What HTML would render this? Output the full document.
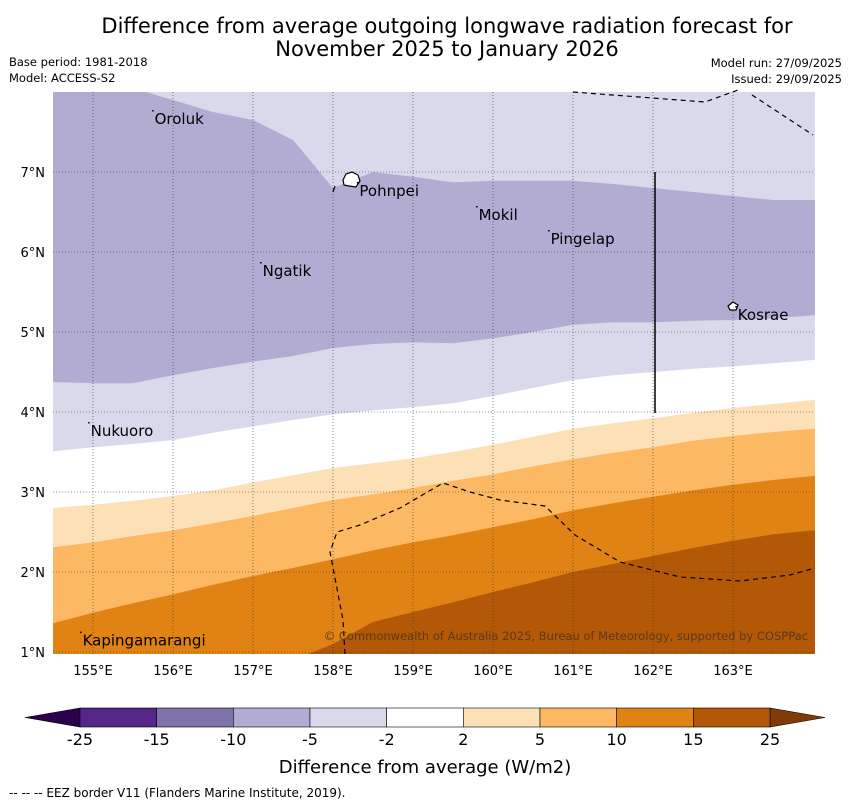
<!DOCTYPE html>
<html><head><meta charset="utf-8">
<style>
body{margin:0;background:#fff;width:850px;height:804px;overflow:hidden;font-family:"DejaVu Sans","Liberation Sans",sans-serif;}
svg{display:block}
</style></head>
<body>
<svg id="chart" width="850" height="804" viewBox="0 0 850 804">
<text x="447" y="33" text-anchor="middle" font-size="21">Difference from average outgoing longwave radiation forecast for</text>
<text x="447" y="56" text-anchor="middle" font-size="21">November 2025 to January 2026</text>
<text x="9" y="66" font-size="11.5">Base period: 1981-2018</text>
<text x="9" y="82" font-size="11.5">Model: ACCESS-S2</text>
<text x="842" y="67" font-size="11.5" text-anchor="end">Model run: 27/09/2025</text>
<text x="842" y="83" font-size="11.5" text-anchor="end">Issued: 29/09/2025</text>
<defs><clipPath id="mapclip"><rect x="53" y="92" width="762" height="562"/></clipPath></defs>
<g id="map" clip-path="url(#mapclip)"></g>
<g id="overlay"></g>
<g id="cbar"></g>
<text x="425" y="773" text-anchor="middle" font-size="18">Difference from average (W/m2)</text>
<text x="9" y="797" font-size="12">--  --  -- EEZ border V11 (Flanders Marine Institute, 2019).</text>
</svg>
<script>
const lons=[154.5,155,155.5,156,156.5,157,157.5,158,158.5,159,159.5,160,160.5,161,161.5,162,162.5,163,163.5,164];
const bndA=[8.05,8.05,8.05,7.9,7.75,7.65,7.4,6.8,7.0,6.94,6.87,6.89,6.89,6.89,6.85,6.8,6.75,6.7,6.65,6.65];
const bndB=[4.375,4.36,4.36,4.46,4.55,4.63,4.7,4.8,4.85,4.87,4.86,4.92,5.0,5.09,5.12,5.12,5.14,5.15,5.17,5.21];
const bndC=[3.51,3.56,3.6,3.65,3.74,3.82,3.9,3.97,4.02,4.06,4.11,4.2,4.3,4.4,4.46,4.5,4.54,4.57,4.61,4.65];
const bndD=[2.8,2.84,2.89,2.95,3.02,3.12,3.21,3.3,3.36,3.42,3.5,3.59,3.69,3.79,3.86,3.92,3.99,4.05,4.1,4.15];
const bndE=[2.31,2.37,2.45,2.52,2.61,2.7,2.8,2.9,2.97,3.05,3.14,3.22,3.32,3.41,3.49,3.56,3.64,3.7,3.75,3.79];
const bndF=[1.36,1.49,1.61,1.72,1.84,1.95,2.05,2.16,2.27,2.37,2.46,2.56,2.66,2.77,2.86,2.94,3.02,3.09,3.15,3.2];
const bndG=[0.5,0.5,0.5,0.5,0.5,0.5,0.9,1.1,1.375,1.5,1.62,1.75,1.87,2.0,2.1,2.2,2.3,2.39,2.47,2.52];
const levels=["-25","-15","-10","-5","-2","2","5","10","15","25"];
const levelColors=["#542788","#8073ac","#b2abd2","#d8daeb","#ffffff","#fee0b6","#fdb863","#e08214","#b35806"];
const xTicks=[155,156,157,158,159,160,161,162,163];
const yTicks=[1,2,3,4,5,6,7];
const places=[["Oroluk",155.77,7.6],["Pohnpei",158.33,6.7],["Mokil",159.82,6.4],["Pingelap",160.72,6.1],["Ngatik",157.12,5.7],["Kosrae",163.06,5.15],["Nukuoro",154.97,3.7],["Kapingamarangi",154.87,1.08]];
const NS="http://www.w3.org/2000/svg";
const X=lon=>53+(lon-154.5)*80;
const Y=lat=>652-(lat-1)*80;
function mk(tag,attrs,parent){const e=document.createElementNS(NS,tag);for(const k in attrs)e.setAttribute(k,attrs[k]);parent.appendChild(e);return e;}
const map=document.getElementById('map');
const base=mk('rect',{x:53,y:92,width:762,height:562,fill:"#b35806"},map);


const bands=[[bndG,"#e08214","region-10-15"],[bndF,"#fdb863","region-5-10"],[bndE,"#fee0b6","region-2-5"],[bndD,"#ffffff","region-neutral"],[bndC,"#d8daeb","region-minus5-minus2"],[bndB,"#b2abd2","region-minus10-minus5"],[bndA,"#d8daeb","region-minus5-minus2-north"]];
bands.forEach(([b,c,n])=>{
  const last=lons.length-1;
  let d="M"+(X(lons[0])-5)+","+Y(b[0]);
  for(let i=0;i<lons.length;i++)d+=" L"+X(lons[i])+","+Y(b[i]);
  d+=" L"+(X(lons[last])+10)+","+Y(b[last]);
  d+=" L"+(X(lons[last])+10)+",80 L"+(X(lons[0])-5)+",80 Z";
  const p=mk('path',{d:d,fill:c},map);
  
  
});
const ov=document.getElementById('overlay');
xTicks.forEach(t=>{
  const l=mk('line',{x1:X(t),x2:X(t),y1:92,y2:654,stroke:"#333",'stroke-width':0.6,'stroke-dasharray':"1,2"},ov);
  
  
  const tx=mk('text',{x:X(t),y:675,'text-anchor':'middle','font-size':13},ov);
  tx.textContent=t+"°E";
  
  
});
yTicks.forEach(t=>{
  const l=mk('line',{x1:53,x2:815,y1:Y(t),y2:Y(t),stroke:"#333",'stroke-width':0.6,'stroke-dasharray':"1,2"},ov);
  
  
  const tx=mk('text',{x:45,y:Y(t)+5,'text-anchor':'end','font-size':13},ov);
  tx.textContent=t+"°N";
  
  
});
const eez1=mk('path',{d:"M573,92 L705,102 L738,90 M752,95 L813,135",fill:"none",stroke:"#000",'stroke-width':1.2,'stroke-dasharray':"5,4"},ov);


const eez2=mk('path',{d:"M345,654 L343,620 L330,552 L337,532 L360,525 L400,508 L443,483 L470,492 L500,500 L545,506 L575,535 L620,562 L680,577 L740,581 L790,575 L815,568",fill:"none",stroke:"#000",'stroke-width':1.2,'stroke-dasharray':"5,4"},ov);


const eez3=mk('path',{d:"M335,186 L333,192",fill:"none",stroke:"#000",'stroke-width':1.2},ov);


const vline=mk('line',{x1:655,x2:655,y1:172,y2:413,stroke:"#000",'stroke-width':1.5},ov);


const pohn=mk('path',{d:"M343,180 L346,174 L352,172 L358,175 L360,181 L356,187 L349,186 L344,185 Z",fill:"#fff",stroke:"#000",'stroke-width':1.2},ov);


const kos=mk('path',{d:"M728,306 L733,302 L738,305 L736,310 L730,310 Z",fill:"#fff",stroke:"#000",'stroke-width':1.2},ov);


places.forEach(([n,lo,la])=>{
  const tx=mk('text',{x:X(lo),y:Y(la),'font-size':15},ov);
  tx.textContent=n;
  
  
  const d=mk('rect',{x:X(lo)-2.5,y:Y(la)-14,width:1.5,height:1.5,fill:"#000"},ov);
  
  
});
const cr=mk('text',{x:808,y:640,'text-anchor':'end','font-size':11.5,fill:"#5a3a1a"},ov);
cr.textContent="© Commonwealth of Australia 2025, Bureau of Meteorology, supported by COSPPac";


const cb=document.getElementById('cbar');
const cbX0=80,cbW=690/9,cbY=708,cbH=19;
const lt=mk('path',{d:`M${cbX0},${cbY} L25,${cbY+cbH/2} L${cbX0},${cbY+cbH} Z`,fill:"#2d004b",stroke:"#000",'stroke-width':0.6},cb);


const rt=mk('path',{d:`M${cbX0+690},${cbY} L825,${cbY+cbH/2} L${cbX0+690},${cbY+cbH} Z`,fill:"#7f3b08",stroke:"#000",'stroke-width':0.6},cb);


levelColors.forEach((c,i)=>{
  const r=mk('rect',{x:cbX0+i*cbW,y:cbY,width:cbW,height:cbH,fill:c,stroke:"#000",'stroke-width':0.6},cb);
  
  
});
levels.forEach((l,i)=>{
  const tx=mk('text',{x:cbX0+i*cbW,y:745,'text-anchor':'middle','font-size':16},cb);
  tx.textContent=l;
  
  
});
</script>
</body></html>
